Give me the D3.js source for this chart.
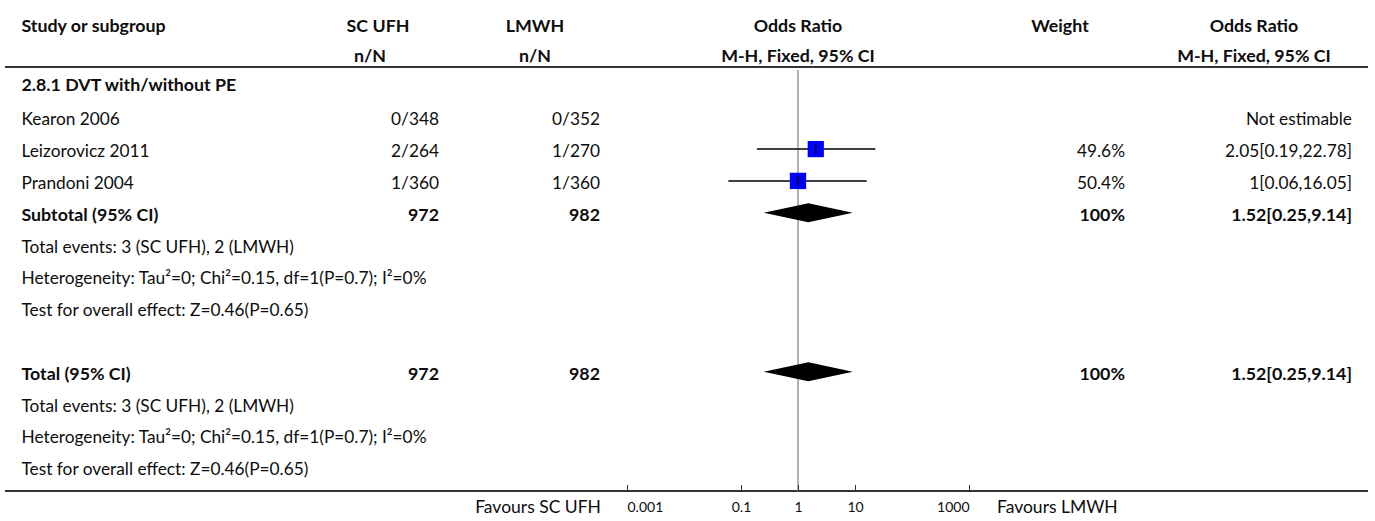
<!DOCTYPE html>
<html>
<head>
<meta charset="utf-8">
<script src="https://cdn.jsdelivr.net/npm/d3@7"></script>
<style>
  body { margin: 0; background: #fff; }
  text { font-family: Lato, "Noto Sans", sans-serif; fill: #0d0d0d; }
</style>
</head>
<body>
<svg id="chart" width="1375" height="521"></svg>
<script>
// study data
const studies = ["Kearon 2006", "Leizorovicz 2011", "Prandoni 2004"];
const ufhEvents = [0, 2, 1];
const ufhTotal = [348, 264, 360];
const lmwhEvents = [0, 1, 1];
const lmwhTotal = [352, 270, 360];
const orEst = [null, 2.05, 1];
const orLow = [null, 0.19, 0.06];
const orHigh = [null, 22.78, 16.05];
const weights = [null, 49.6, 50.4];

// pooled result (subtotal and total are the same here)
const pooledOR = 1.52;
const pooledLow = 0.25;
const pooledHigh = 9.14;
const pooledWeight = 100;
const ufhSum = 972;
const lmwhSum = 982;

const groupTitle = "2.8.1 DVT with/without PE";
const summaryLines = [
  "Total events: 3 (SC UFH), 2 (LMWH)",
  "Heterogeneity: Tau\u00b2=0; Chi\u00b2=0.15, df=1(P=0.7); I\u00b2=0%",
  "Test for overall effect: Z=0.46(P=0.65)"
];

const axisDomain = [0.001, 1000];
const axisTicks = [0.001, 0.1, 1, 10, 1000];
const favourLeft = "Favours SC UFH";
const favourRight = "Favours LMWH";

const headerTop = ["Study or subgroup", "SC UFH", "LMWH", "Odds Ratio", "Weight", "Odds Ratio"];
const headerBottom = ["", "n/N", "n/N", "M-H, Fixed, 95% CI", "", "M-H, Fixed, 95% CI"];


const svg = d3.select("#chart");
const fs = 17.3, fsBold = 17.8;

// layout
const colStudy = 21.5, colUfh = 439, colLmwh = 600, colWeight = 1125, colOr = 1352;
const headCenters = [null, 378, 535, 798, 1060, 1254];
const headCenters2 = [null, 370, 535, 798, 1060, 1254];

const x = d3.scaleLog().domain(axisDomain).range([627, 969]);
const rowY = d3.scaleLinear().domain([0, 1]).range([119.3, 151.1]);
const box = d3.scaleSqrt().domain([0, 100]).range([0, 23]);
const base = 6; // text baseline below row centre
const axisY = 491;

function txt(s, xx, yy, anchor, bold, size) {
  return svg.append("text")
    .attr("x", xx).attr("y", yy)
    .attr("text-anchor", anchor || "start")
    .style("font-size", (size || (bold ? fsBold : fs)) + "px")
    .style("font-weight", bold ? "700" : "400")
    .text(s);
}

// headers
headerTop.forEach((h, i) => {
  if (i == 0) txt(h, colStudy, 31.5, "start", true);
  else txt(h, headCenters[i], 31.5, "middle", true);
});
headerBottom.forEach((h, i) => {
  if (h) txt(h, headCenters2[i], 61.5, "middle", true);
});

// horizontal rules
svg.append("line").attr("x1", 5).attr("x2", 1368).attr("y1", 67).attr("y2", 67)
  .attr("stroke", "#333").attr("stroke-width", 2);
svg.append("line").attr("x1", 5).attr("x2", 1368).attr("y1", axisY).attr("y2", axisY)
  .attr("stroke", "#333").attr("stroke-width", 2);

// line of no effect
svg.append("line").attr("x1", x(1)).attr("x2", x(1)).attr("y1", 70).attr("y2", axisY)
  .attr("stroke", "#999").attr("stroke-width", 1.5);

// group title
txt(groupTitle, colStudy, rowY(-1.07) + base, "start", true);

// studies
studies.forEach((s, i) => {
  const y = rowY(i);
  txt(s, colStudy, y + base);
  txt(ufhEvents[i] + "/" + ufhTotal[i], colUfh, y + base, "end");
  txt(lmwhEvents[i] + "/" + lmwhTotal[i], colLmwh, y + base, "end");
  if (orEst[i] == null) {
    txt("Not estimable", colOr, y + base, "end");
    return;
  }
  txt(weights[i] + "%", colWeight, y + base, "end");
  txt(orEst[i] + "[" + orLow[i] + "," + orHigh[i] + "]", colOr, y + base, "end");

  const my = y - 2;
  svg.append("line").attr("x1", x(orLow[i])).attr("x2", x(orHigh[i]))
    .attr("y1", my).attr("y2", my).attr("stroke", "#000").attr("stroke-width", 1.5);
  const b = box(weights[i]);
  svg.append("rect").attr("x", x(orEst[i]) - b / 2).attr("y", my - b / 2)
    .attr("width", b).attr("height", b).attr("fill", "#0000ff");
  svg.append("line").attr("x1", x(orEst[i])).attr("x2", x(orEst[i]))
    .attr("y1", my - 4.5).attr("y2", my + 4.5).attr("stroke", "#000").attr("stroke-width", 1.5);
});

// pooled blocks: subtotal (row 3) and total (row 8)
[[3, "Subtotal (95% CI)"], [8, "Total (95% CI)"]].forEach(([r, label]) => {
  const y = rowY(r);
  txt(label, colStudy, y + base, "start", true);
  txt(ufhSum, colUfh, y + base, "end", true);
  txt(lmwhSum, colLmwh, y + base, "end", true);
  txt(pooledWeight + "%", colWeight, y + base, "end", true);
  txt(pooledOR + "[" + pooledLow + "," + pooledHigh + "]", colOr, y + base, "end", true);

  const my = y - 2, h = 9.5;
  svg.append("path")
    .attr("d", `M${x(pooledLow)},${my} L${x(pooledOR)},${my - h} L${x(pooledHigh)},${my} L${x(pooledOR)},${my + h} Z`)
    .attr("fill", "#000");

  summaryLines.forEach((l, k) => txt(l, colStudy, rowY(r + 1 + k) + base));
});

// bottom axis
const ax = svg.append("g")
  .attr("transform", `translate(0,${axisY})`)
  .call(d3.axisBottom(x).tickValues(axisTicks).tickFormat(d => String(d))
    .tickSizeInner(-6).tickSizeOuter(0).tickPadding(11));
ax.select(".domain").remove();
ax.selectAll(".tick line").attr("stroke", "#333");
ax.selectAll(".tick text")
  .style("font-family", "Lato, sans-serif")
  .style("font-size", "14px")
  .attr("fill", "#111")
  .attr("text-anchor", (d, i) => i == 0 ? "start" : (i == axisTicks.length - 1 ? "end" : "middle"));

txt(favourLeft, 601, 512.5, "end", false, 17.5);
txt(favourRight, 997, 512.5, "start", false, 17.5);
</script>
</body>
</html>
